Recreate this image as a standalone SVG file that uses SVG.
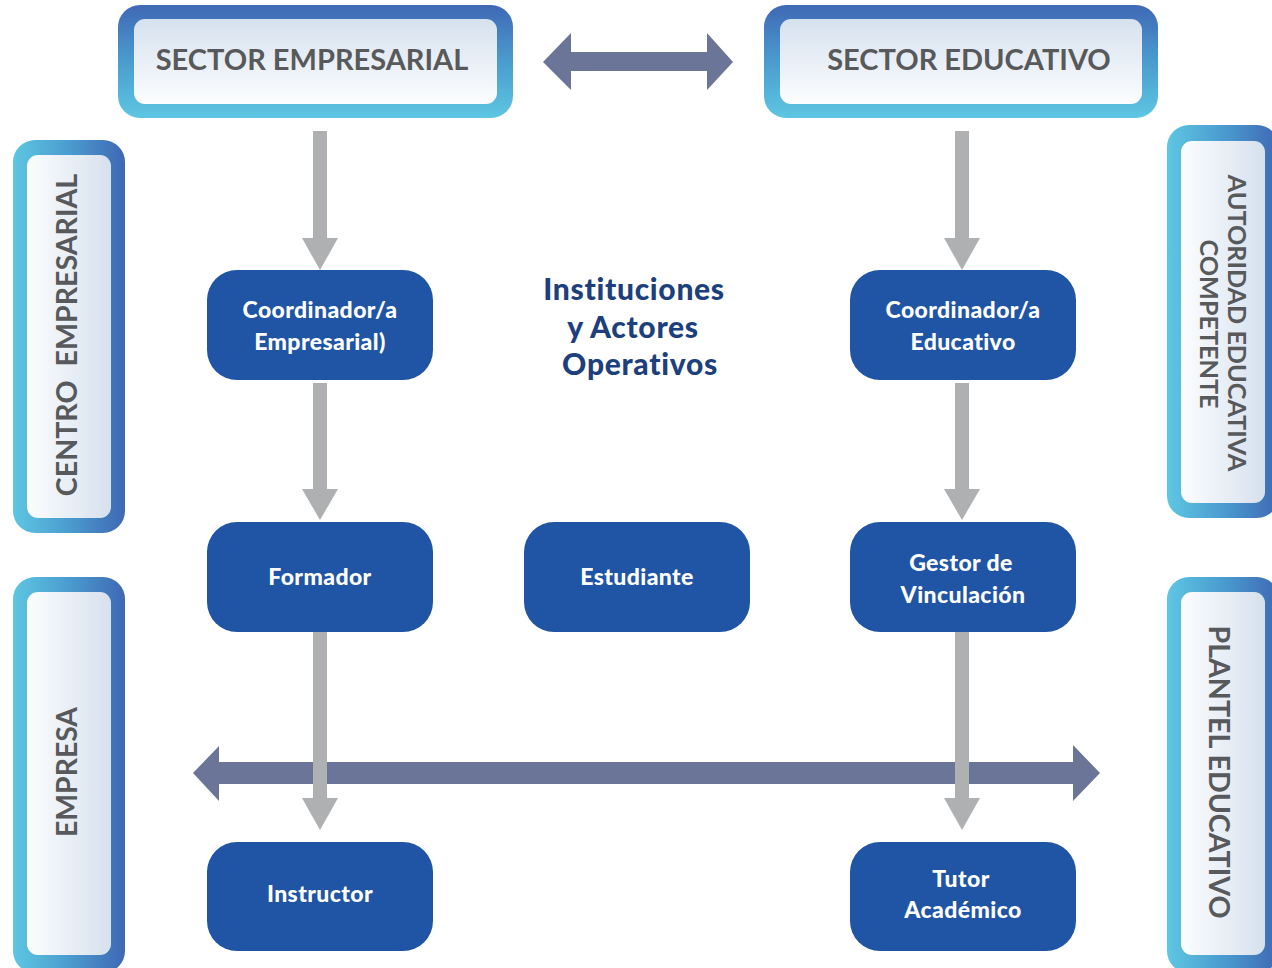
<svg xmlns="http://www.w3.org/2000/svg" width="1272" height="968" viewBox="0 0 1272 968">
<style>
.frameT{fill:url(#gOutV)}
.innerT{fill:url(#gInV)}
.frameS{fill:url(#gOutH)}
.innerS{fill:url(#gInH)}
.hdr{font-family:Lato,"Liberation Sans",sans-serif;font-weight:700;fill:#58595b;text-anchor:middle;white-space:pre}
.node rect{fill:#1f55a4}
.ntxt{font-family:Lato,"Liberation Sans",sans-serif;font-weight:900;font-size:23px;letter-spacing:0.4px;fill:#ffffff;text-anchor:middle}
.ctr{font-family:Lato,"Liberation Sans",sans-serif;font-weight:900;font-size:30px;letter-spacing:0.7px;fill:#1d3f7c;text-anchor:middle}
.gray{fill:#aeb0b1}
.dbl{fill:#6b7597}
</style>
<defs>
<linearGradient id="gOutV" x1="0" y1="0" x2="0" y2="1">
<stop offset="0" stop-color="#3f68b4"/><stop offset="0.5" stop-color="#4a9ccf"/><stop offset="1" stop-color="#5ec6e2"/>
</linearGradient>
<linearGradient id="gInV" x1="0" y1="0" x2="0" y2="1">
<stop offset="0" stop-color="#d6e1ee"/><stop offset="1" stop-color="#fcfdfe"/>
</linearGradient>
<linearGradient id="gOutH" x1="0" y1="0" x2="1" y2="0">
<stop offset="0" stop-color="#5ec6e2"/><stop offset="0.5" stop-color="#4a9ccf"/><stop offset="1" stop-color="#3f68b4"/>
</linearGradient>
<linearGradient id="gInH" x1="0" y1="0" x2="1" y2="0">
<stop offset="0" stop-color="#fcfdfe"/><stop offset="1" stop-color="#d6e1ee"/>
</linearGradient>
</defs>
<rect width="1272" height="968" fill="#ffffff"/>

<g id="sector-empresarial">
<rect class="frameT" x="118" y="5" width="395" height="113" rx="22"/>
<rect class="innerT" x="134" y="19" width="363" height="85" rx="11"/>
<text class="hdr" x="312" y="70" font-size="29">SECTOR EMPRESARIAL</text>
</g>
<g id="sector-educativo">
<rect class="frameT" x="764" y="5" width="394" height="113" rx="22"/>
<rect class="innerT" x="780" y="19" width="362" height="85" rx="11"/>
<text class="hdr" x="969" y="70" font-size="29">SECTOR EDUCATIVO</text>
</g>
<g id="centro-empresarial">
<rect class="frameS" x="13" y="140" width="112" height="393" rx="22"/>
<rect class="innerS" x="27" y="155" width="84" height="363" rx="11"/>
<text class="hdr" transform="translate(77,335) rotate(-90)" font-size="28.6">CENTRO  EMPRESARIAL</text>
</g>
<g id="empresa">
<rect class="frameS" x="13" y="577" width="112" height="396" rx="22"/>
<rect class="innerS" x="27" y="592" width="84" height="363" rx="11"/>
<text class="hdr" transform="translate(77,772) rotate(-90)" font-size="28.4">EMPRESA</text>
</g>
<g id="autoridad-educativa">
<rect class="frameS" x="1167" y="125" width="112" height="393" rx="22"/>
<rect class="innerS" x="1181" y="141" width="84" height="362" rx="11"/>
<text class="hdr" transform="translate(1228,323) rotate(90)" font-size="25.2">AUTORIDAD EDUCATIVA</text>
<text class="hdr" transform="translate(1200,324) rotate(90)" font-size="25.2">COMPETENTE</text>
</g>
<g id="plantel-educativo">
<rect class="frameS" x="1167" y="577" width="112" height="396" rx="22"/>
<rect class="innerS" x="1181" y="592" width="84" height="363" rx="11"/>
<text class="hdr" transform="translate(1209,772) rotate(90)" font-size="28.6">PLANTEL EDUCATIVO</text>
</g>

<g id="titulo">
<text class="ctr" x="634" y="300">Instituciones</text>
<text class="ctr" x="633" y="338">y Actores</text>
<text class="ctr" x="640" y="375">Operativos</text>
</g>

<g id="connectors">
<path class="dbl" d="M543,62 L571,33 L571,52 L707,52 L707,33 L733,62 L707,90 L707,71 L571,71 L571,90 Z"/>
<path class="dbl" d="M193,773 L219,746 L219,762 L1073,762 L1073,745 L1100,773 L1073,801 L1073,784 L219,784 L219,801 Z"/>
<path class="gray" d="M313,131 L327,131 L327,238 L338,238 L320,270 L302,238 L313,238 Z"/>
<path class="gray" d="M313,383 L327,383 L327,489 L338,489 L320,520 L302,489 L313,489 Z"/>
<path class="gray" d="M313,632 L327,632 L327,798 L338,798 L320,830 L302,798 L313,798 Z"/>
<path class="gray" d="M955,131 L969,131 L969,238 L980,238 L962,270 L944,238 L955,238 Z"/>
<path class="gray" d="M955,383 L969,383 L969,489 L980,489 L962,520 L944,489 L955,489 Z"/>
<path class="gray" d="M955,632 L969,632 L969,798 L980,798 L962,830 L944,798 L955,798 Z"/>
</g>

<g id="coord-empresarial" class="node">
<rect x="207" y="270" width="226" height="110" rx="30"/>
<text class="ntxt" x="320" y="318">Coordinador/a</text>
<text class="ntxt" x="320" y="350">Empresarial)</text>
</g>
<g id="coord-educativo" class="node">
<rect x="850" y="270" width="226" height="110" rx="30"/>
<text class="ntxt" x="963" y="318">Coordinador/a</text>
<text class="ntxt" x="963" y="350">Educativo</text>
</g>
<g id="formador" class="node">
<rect x="207" y="522" width="226" height="110" rx="30"/>
<text class="ntxt" x="320" y="585">Formador</text>
</g>
<g id="estudiante" class="node">
<rect x="524" y="522" width="226" height="110" rx="30"/>
<text class="ntxt" x="637" y="585">Estudiante</text>
</g>
<g id="gestor" class="node">
<rect x="850" y="522" width="226" height="110" rx="30"/>
<text class="ntxt" x="961" y="571">Gestor de</text>
<text class="ntxt" x="963" y="603">Vinculación</text>
</g>
<g id="instructor" class="node">
<rect x="207" y="842" width="226" height="109" rx="30"/>
<text class="ntxt" x="320" y="902">Instructor</text>
</g>
<g id="tutor" class="node">
<rect x="850" y="842" width="226" height="109" rx="30"/>
<text class="ntxt" x="961" y="887">Tutor</text>
<text class="ntxt" x="963" y="918">Académico</text>
</g>
</svg>
